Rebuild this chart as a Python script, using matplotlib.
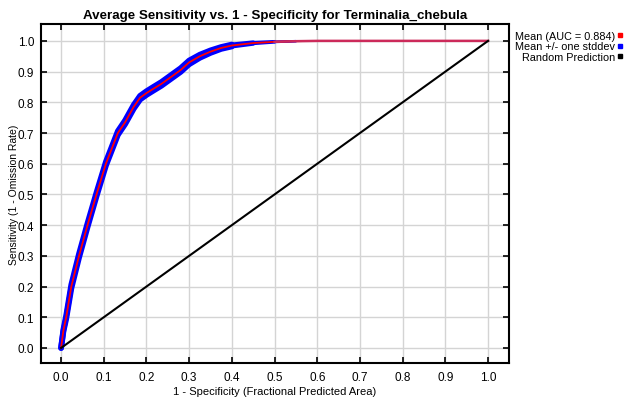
import numpy as np
import matplotlib
matplotlib.use('Agg')
import matplotlib.pyplot as plt
from matplotlib.lines import Line2D

plt.rcParams['font.family'] = ['Liberation Sans', 'DejaVu Sans']

species = 'Terminalia_chebula'
auc = 0.884

# mean ROC curve
fpr = [0, 0.0055, 0.012, 0.024, 0.042, 0.062, 0.083, 0.105, 0.133, 0.15, 0.17,
       0.185, 0.2, 0.215, 0.235, 0.26, 0.28, 0.3, 0.325, 0.35, 0.375, 0.4,
       0.45, 0.5, 0.55, 0.6, 0.7, 1.0]
tpr = [0, 0.057, 0.1, 0.2, 0.3, 0.4, 0.5, 0.6, 0.7, 0.735, 0.785,
       0.815, 0.83, 0.843, 0.86, 0.885, 0.905, 0.93, 0.95, 0.965, 0.977, 0.985,
       0.993, 0.997, 0.999, 1.0, 1.0, 1.0]
# one standard deviation around the mean
sd = [0, 0.003, 0.005, 0.006, 0.006, 0.006, 0.006, 0.006, 0.006, 0.006, 0.006,
      0.006, 0.006, 0.006, 0.006, 0.006, 0.006, 0.006, 0.005, 0.004, 0.003, 0.003,
      0.002, 0.001, 0.0005, 0, 0, 0]

ticks = [0.0, 0.1, 0.2, 0.3, 0.4, 0.5, 0.6, 0.7, 0.8, 0.9, 1.0]
legend_labels = ['Mean (AUC = %.3f)' % auc, 'Mean +/- one stddev', 'Random Prediction']
legend_colors = ['#ff0000', '#0000ff', '#000000']

fpr = np.array(fpr)
tpr = np.array(tpr)
sd = np.array(sd)
upper = np.clip(tpr + sd, 0, 1)
lower = np.clip(tpr - sd, 0, 1)

fig = plt.figure(figsize=(6.25, 4.02), dpi=100)
ax = fig.add_axes([41 / 625, 38 / 402, 468 / 625, 339 / 402])

ax.fill_between(fpr, lower, upper, color='#0000ff', lw=0)
# band gets thinner where the stddev vanishes
for lo, hi, w in [(0, 0.4, 4.2), (0.4, 0.45, 3.0), (0.45, 0.5, 2.2), (0.5, 0.55, 1.6)]:
    m = (fpr >= lo) & (fpr <= hi)
    ax.plot(fpr[m], upper[m], color='#0000ff', lw=w, solid_capstyle='round')
    ax.plot(fpr[m], lower[m], color='#0000ff', lw=w, solid_capstyle='round')
ax.plot(fpr, tpr, color='#ff0000', lw=1.3)
ax.plot(fpr[fpr >= 0.5], tpr[fpr >= 0.5], color='#cc2a5a', lw=1.8)
ax.plot([0, 1], [0, 1], color='black', lw=1.5)

ax.set_xlim(-0.047, 1.049)
ax.set_ylim(-0.049, 1.055)
ax.set_xticks(ticks)
ax.set_yticks(ticks)
ax.set_xticklabels(['%.1f' % t for t in ticks])
ax.set_yticklabels(['%.1f' % t for t in ticks])
ax.grid(True, color='#d4d4d4', lw=1)
ax.set_axisbelow(True)
ax.tick_params(direction='in', length=4, width=1.2, top=True, right=True,
               labelsize=8.5, pad=6)
ax.tick_params(axis='y', pad=5)
for s in ax.spines.values():
    s.set_linewidth(1.5)

ax.set_title('Average Sensitivity vs. 1 - Specificity for %s' % species,
             fontsize=9.6, fontweight='bold', pad=4)
ax.set_xlabel('1 - Specificity (Fractional Predicted Area)', fontsize=8, labelpad=2)
ax.set_ylabel('Sensitivity (1 - Omission Rate)', fontsize=7.5)
ax.yaxis.set_label_coords(-0.047, 0.5)

for i, (lab, col) in enumerate(zip(legend_labels, legend_colors)):
    y = 1 - (37 + 10.5 * i) / 402
    fig.text(615 / 625, y, lab, ha='right', va='center', fontsize=7.8)
    fig.add_artist(Line2D([620 / 625], [y + 1 / 402], marker='s', markersize=3.2,
                          color=col, transform=fig.transFigure))

fig.savefig('out.png', dpi=100)
